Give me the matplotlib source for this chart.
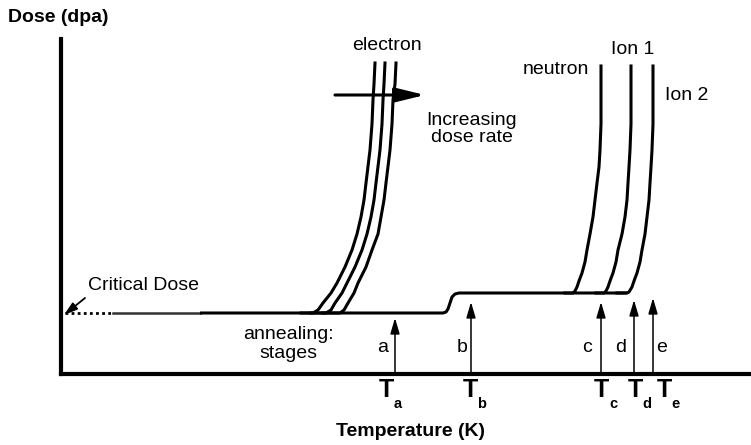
import matplotlib.pyplot as plt

plt.rcParams['font.family'] = ['Liberation Sans', 'DejaVu Sans']

# schematic, arbitrary units: temperature (x) vs dose (y)
DOSE_LOW = 61
DOSE_HIGH = 81

# critical dose line, dotted start, faint part, then solid with a step at T_b
crit_dot_x = [4, 52]
crit_faint_x = [52, 139]
crit_x = [139, 382, 385, 387, 389, 391, 394, 398, 566]
crit_y = [61, 61, 62, 65, 71, 77, 80, 81, 81]

# electron curves (increasing dose rate, left to right)
elec_y = [61, 61, 64, 71, 81, 91, 107, 124, 140, 157, 174, 191, 224, 250, 274, 290, 311]
elec1_x = [240, 252, 257, 262, 270, 276, 284, 291, 296, 300, 303, 305, 309, 311, 312, 313, 314]
elec2_x = [250, 265, 270, 274, 281, 286, 294, 301, 306, 310, 313, 315, 319, 321, 322, 323, 324]
elec3_x = [262, 279, 283, 287, 293, 297, 305, 311, 317, 320, 323, 325, 329, 331, 332, 334, 335]

# neutron / ion curves
up_y = [81, 81, 83, 87, 93, 101, 112, 124, 140, 157, 174, 191, 207, 224, 250, 308]
neut_x = [504, 512, 514, 516, 518, 521, 524, 526, 529, 532, 534, 536, 538, 539, 540, 540]
ion1_x = [535, 543, 545, 547, 549, 552, 555, 557, 561, 564, 566, 567, 568, 569, 570, 570]
ion2_y = [81, 81, 82, 87, 93, 101, 112, 124, 140, 157, 174, 191, 207, 224, 250, 308]
ion2_x = [556, 566, 568, 571, 573, 576, 579, 581, 584, 586, 588, 589, 590, 591, 592, 592]

# annealing stage temperatures
stage_names = ['a', 'b', 'c', 'd', 'e']
stage_T = [334, 410, 540, 573, 592]
stage_tops = [56, 72, 72, 74, 76]
stage_letter_x = [322, 401, 526, 560, 601]
T_label_x = [325, 409, 540, 574, 603]

fig = plt.figure(figsize=(7.51, 4.45), dpi=100)
ax = fig.add_axes([61 / 751, 71 / 445, 690 / 751, 335 / 445])
ax.set_xlim(0, 690)
ax.set_ylim(0, 335)
for s in ['top', 'right']:
    ax.spines[s].set_visible(False)
for s in ['left', 'bottom']:
    ax.spines[s].set_linewidth(3)
ax.set_xticks([])
ax.set_yticks([])

lw = 2.2
ax.plot(crit_dot_x, [DOSE_LOW] * 2, color='black', lw=2, linestyle=(0, (1, 1.2)))
ax.plot(crit_faint_x, [DOSE_LOW] * 2, color='#333333', lw=1.8)
ax.plot(crit_x, crit_y, color='black', lw=lw, solid_capstyle='butt')

for xs in [elec1_x, elec2_x, elec3_x]:
    ax.plot(xs, elec_y, color='black', lw=lw, solid_joinstyle='round')
ax.plot(neut_x, up_y, color='black', lw=lw, solid_joinstyle='round')
ax.plot(ion1_x, up_y, color='black', lw=lw, solid_joinstyle='round')
ax.plot(ion2_x, ion2_y, color='black', lw=lw, solid_joinstyle='round')

# stage arrows and labels
for name, t, top, lx, tx in zip(stage_names, stage_T, stage_tops, stage_letter_x, T_label_x):
    ax.annotate('', xy=(t, top), xytext=(t, 0),
                arrowprops=dict(arrowstyle='-|>,head_length=0.95,head_width=0.28',
                                mutation_scale=10, lw=1.1, color='black',
                                shrinkA=0, shrinkB=0))
    ax.text(lx, 26, name, ha='center', va='center', fontsize=14)
    ax.text(tx, -16, 'T', ha='center', va='center', fontsize=18,
            fontweight='bold', clip_on=False)
    ax.text(tx + 12, -30, name, ha='center', va='center', fontsize=10.5,
            fontweight='bold', clip_on=False)

# increasing dose rate arrow
ax.annotate('', xy=(364, 279), xytext=(274, 279),
            arrowprops=dict(arrowstyle='-|>,head_length=0.9,head_width=0.22',
                            mutation_scale=20, lw=2.2, color='black',
                            shrinkA=0, shrinkB=0))
# critical dose arrow
ax.annotate('', xy=(3, 59), xytext=(24, 76),
            arrowprops=dict(arrowstyle='-|>,head_length=0.8,head_width=0.25',
                            mutation_scale=10, lw=1.3, color='black',
                            shrinkA=0, shrinkB=0))

ax.text(326, 329, 'electron', ha='center', va='center', fontsize=14)
ax.text(411, 245, 'Increasing\ndose rate', ha='center', va='center',
        fontsize=14, linespacing=1.05)
ax.text(528, 304, 'neutron', ha='right', va='center', fontsize=14)
ax.text(572, 324, 'Ion 1', ha='center', va='center', fontsize=14)
ax.text(604, 279, 'Ion 2', ha='left', va='center', fontsize=14)
ax.text(27, 89, 'Critical Dose', ha='left', va='center', fontsize=14)
ax.text(227, 30, 'annealing:\nstages', ha='center', va='center',
        fontsize=14, linespacing=1.1)

ax.text(-53, 357, 'Dose (dpa)', ha='left', va='center', fontsize=14,
        fontweight='bold', clip_on=False)
ax.text(349, -57, 'Temperature (K)', ha='center', va='center', fontsize=14,
        fontweight='bold', clip_on=False)

fig.savefig('out.png', dpi=100)
